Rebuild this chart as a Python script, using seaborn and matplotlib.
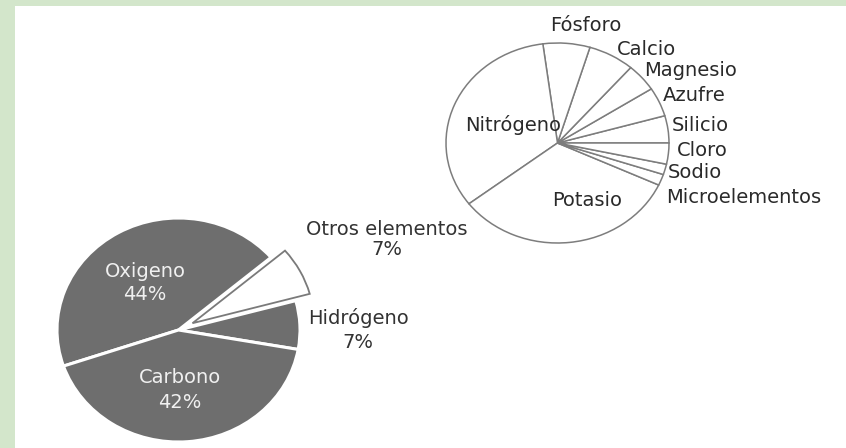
import matplotlib
matplotlib.use("Agg")
import matplotlib.pyplot as plt
from matplotlib.patches import Rectangle
import seaborn as sns

# --- DATOS: composición de la planta (pie gris) ---
planta_elem = ["Hidrógeno", "Otros elementos", "Oxigeno", "Carbono"]
planta_pct = [7, 7, 44, 42]

# --- DATOS: detalle de "otros elementos" (pie blanco) ---
otros_elem = ["Silicio", "Azufre", "Magnesio", "Calcio", "Fósforo",
              "Nitrógeno", "Potasio", "Microelementos", "Sodio", "Cloro"]
otros_val = [4.4, 4.7, 4.5, 6.7, 6.8, 33.3, 32.7, 1.8, 1.7, 3.4]

# posiciones de etiquetas (px de imagen: x centro, y linea base)
pos_planta_nombre = {"Hidrógeno": (358, 324), "Otros elementos": (387, 235),
                     "Oxigeno": (145, 277), "Carbono": (180, 383)}
pos_planta_pct = {"Hidrógeno": (358, 348), "Otros elementos": (387, 255),
                  "Oxigeno": (145, 300), "Carbono": (180, 408)}
pos_otros = {"Fósforo": (586, 31), "Calcio": (646, 55), "Magnesio": (691, 76),
             "Azufre": (694, 101), "Silicio": (700, 131), "Cloro": (702, 156),
             "Sodio": (695, 178), "Microelementos": (744, 203),
             "Nitrógeno": (513, 131), "Potasio": (587, 206)}

W, H = 846, 448
sns.set_theme(style="white")
plt.rcParams["font.family"] = ["DejaVu Sans"]

fig = plt.figure(figsize=(W / 100, H / 100), dpi=100)
fig.patch.set_facecolor("#d3e6cb")
fig.add_artist(Rectangle((15 / W, 0), 1, 1 - 6 / H, transform=fig.transFigure,
                         facecolor="white", edgecolor="none", zorder=0))


def px_axes(x0, y0, x1, y1):
    return fig.add_axes([x0 / W, 1 - y1 / H, (x1 - x0) / W, (y1 - y0) / H])


def px_text(x, y, s, **kw):
    fig.text(x / W, 1 - y / H, s, ha="center", va="baseline", fontsize=14, **kw)


gris = "#6e6e6e"

# --- Pie gris ---
ax1 = px_axes(57, 218, 300, 442)
cols = [gris if e != "Otros elementos" else "white" for e in planta_elem]
explode = [0.13 if e == "Otros elementos" else 0 for e in planta_elem]
w1, _ = ax1.pie(planta_pct, colors=cols, explode=explode, startangle=-10,
                wedgeprops=dict(edgecolor="white", linewidth=2.2))
for w, e in zip(w1, planta_elem):
    w.set_clip_on(False)
    if e == "Otros elementos":
        w.set_edgecolor("#7a7a7a")
        w.set_linewidth(1.3)
ax1.set_aspect("auto"); ax1.set_xlim(-1, 1); ax1.set_ylim(-1, 1); ax1.axis("off")

# --- Pie blanco ---
ax2 = px_axes(446, 43, 669, 243)
w2, _ = ax2.pie(otros_val, colors=["white"] * len(otros_val), startangle=0,
                wedgeprops=dict(edgecolor="#7d7d7d", linewidth=1.1))
for w in w2:
    w.set_clip_on(False)
ax2.set_aspect("auto"); ax2.set_xlim(-1, 1); ax2.set_ylim(-1, 1); ax2.axis("off")

# --- Etiquetas ---
for e, p in zip(planta_elem, planta_pct):
    color = "#f0f0f0" if e in ("Oxigeno", "Carbono") else "#333333"
    px_text(*pos_planta_nombre[e], e, color=color)
    px_text(*pos_planta_pct[e], f"{p}%", color=color)

for e in otros_elem:
    px_text(*pos_otros[e], e, color="#2a2a2a")

fig.savefig("out.png", dpi=100, facecolor=fig.get_facecolor())
